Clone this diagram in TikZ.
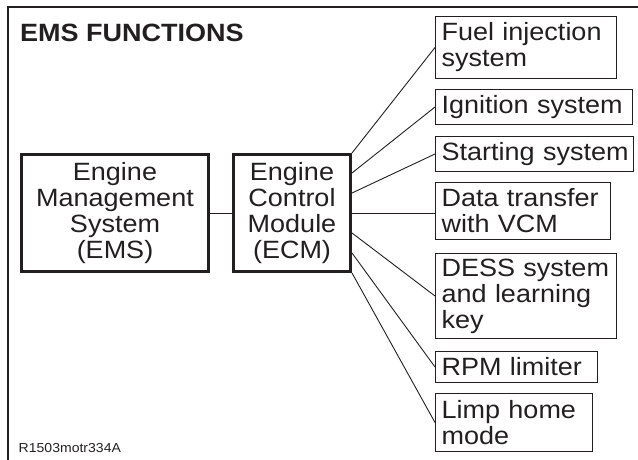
\documentclass[tikz,border=0pt]{standalone}
\usepackage{fontspec}
\setmainfont{Liberation Sans}[FakeStretch=1.08]
\usetikzlibrary{calc}
\definecolor{ink}{RGB}{35,31,32}
\tikzset{
  txt/.style={font=\fontsize{25}{26}\selectfont, text=ink,
    execute at begin node={\hyphenpenalty=10000\exhyphenpenalty=10000}},
  thinbox/.style={txt, draw=ink, line width=1.3pt, anchor=north west,
    inner xsep=6pt, inner ysep=0pt, align=left},
  thickbox/.style={txt, draw=ink, line width=3pt, anchor=north west,
    inner sep=0pt, align=center},
  conn/.style={draw=ink, line width=0.9pt},
  frameline/.style={draw=ink, line width=2pt}
}
\begin{document}
\begin{tikzpicture}[x=1pt,y=-1pt]
\useasboundingbox (0,0) rectangle (638,460);
% frame (top and left only)
\draw[frameline] (638,7) -- (8,7) -- (8,460);
% title and reference code
\node[anchor=base west, inner sep=0pt, text=ink,
  font=\bfseries\fontsize{25}{26}\selectfont] (title) at (20,42) {EMS FUNCTIONS};
\node[anchor=base west, inner sep=0pt, text=ink,
  font=\fontsize{13}{14}\selectfont] (code) at (18.5,452) {R1503motr334A};
% main boxes
\node[thickbox, minimum width=187pt, minimum height=117pt] (ems) at (20,153)
  {Engine\\Management\\System\\(EMS)};
\node[thickbox, minimum width=117pt, minimum height=117pt] (ecm) at (232,153)
  {Engine\\Control\\Module\\(ECM)};
% function boxes
\node[thinbox, text width=168.7pt, minimum height=61.7pt] (fuel) at (435,16)
  {\mbox{Fuel injection}\\system};
\node[thinbox, text width=184.7pt, minimum height=34.7pt] (ign) at (435,89)
  {\mbox{Ignition system}};
\node[thinbox, text width=185.7pt, minimum height=34.7pt] (start) at (435,136)
  {\mbox{Starting system}};
\node[thinbox, text width=162.7pt, minimum height=56.7pt] (data) at (435,182)
  {\mbox{Data transfer}\\\mbox{with VCM}};
\node[thinbox, text width=168.7pt, minimum height=84.7pt] (dess) at (435,253)
  {\mbox{DESS system}\\\mbox{and learning}\\key};
\node[thinbox, text width=149.7pt, minimum height=30.7pt] (rpm) at (435,351)
  {\mbox{RPM limiter}};
\node[thinbox, text width=144.7pt, minimum height=57.7pt] (limp) at (435,393)
  {\mbox{Limp home}\\mode};
% connectors
\draw[conn] (ems.east) -- (ecm.west);
\draw[conn] (ecm.north east) -- (fuel.west);
\draw[conn] ([yshift=-20pt]ecm.north east) -- (ign.west);
\draw[conn] ([yshift=-40pt]ecm.north east) -- (start.west);
\draw[conn] (ecm.east) -- (ecm.east -| data.west);
\draw[conn] ([yshift=-80pt]ecm.north east) -- (dess.west);
\draw[conn] ([yshift=-100pt]ecm.north east) -- (rpm.west);
\draw[conn] (ecm.south east) -- (limp.west);
\end{tikzpicture}
\end{document}
